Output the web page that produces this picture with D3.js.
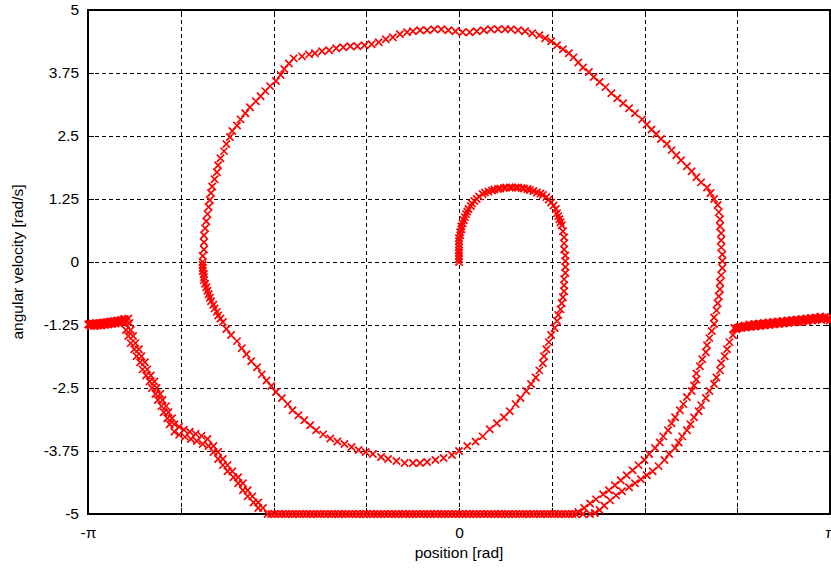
<!DOCTYPE html>
<html>
<head>
<meta charset="utf-8">
<script src="https://cdn.jsdelivr.net/npm/d3@7"></script>
<style>
  body { margin: 0; background: #fff; }
  svg text { font-family: "Liberation Sans", Arial, sans-serif; fill: #000; }
</style>
</head>
<body>
<svg id="chart" width="831" height="571"></svg>
<script>
// Axis ticks: multiples of pi/4 on the position axis, 1.25 steps on velocity.
const xTickSteps = [-4, -3, -2, -1, 0, 1, 2, 3, 4];
const xTickLabels = ["-π", "", "", "", "0", "", "", "", "π"];
const yTicks = [-5, -3.75, -2.5, -1.25, 0, 1.25, 2.5, 3.75, 5];
const yTickLabels = ["-5", "-3.75", "-2.5", "-1.25", "0", "1.25", "2.5", "3.75", "5"];

// Trajectory samples [position rad, angular velocity rad/s], in time order.
const startArc = [[0.00,0.00],[0.00,0.06],[0.00,0.12],[0.00,0.18],[0.00,0.23],[0.00,0.29],[0.00,0.35],[0.00,0.41],[0.00,0.47],[0.01,0.53],[0.01,0.59],[0.02,0.65],[0.02,0.71],[0.03,0.77],[0.04,0.83],[0.05,0.89],[0.06,0.95],[0.07,1.00],[0.08,1.05],[0.10,1.11],[0.11,1.16],[0.13,1.21],[0.15,1.25],[0.17,1.30],[0.20,1.35],[0.22,1.38],[0.25,1.40],[0.28,1.42],[0.30,1.44],[0.33,1.45],[0.35,1.46],[0.38,1.47],[0.40,1.48],[0.43,1.48],[0.45,1.48],[0.48,1.48],[0.50,1.48],[0.53,1.47],[0.55,1.46],[0.58,1.45],[0.60,1.43],[0.63,1.41],[0.66,1.38],[0.69,1.36],[0.71,1.33],[0.74,1.29],[0.76,1.24],[0.78,1.18],[0.80,1.12],[0.82,1.05],[0.83,0.97],[0.84,0.91],[0.85,0.85],[0.86,0.79],[0.87,0.73],[0.88,0.61],[0.89,0.49],[0.89,0.37],[0.89,0.25],[0.90,0.13],[0.90,0.02],[0.90,-0.10],[0.90,-0.22],[0.89,-0.34],[0.89,-0.46],[0.89,-0.58],[0.88,-0.70],[0.87,-0.82],[0.86,-0.94],[0.84,-1.05],[0.83,-1.17]];

const firstSwing = [[0.81,-1.31],[0.78,-1.45],[0.76,-1.59],[0.74,-1.73],[0.72,-1.87],[0.71,-2.01],[0.68,-2.15],[0.65,-2.29],[0.61,-2.42],[0.57,-2.56],[0.52,-2.70],[0.48,-2.82],[0.43,-2.96],[0.38,-3.08],[0.32,-3.20],[0.26,-3.32],[0.20,-3.46],[0.14,-3.56],[0.07,-3.65],[0.00,-3.75],[-0.06,-3.83],[-0.13,-3.89],[-0.20,-3.93],[-0.27,-3.97],[-0.33,-3.99],[-0.39,-3.99],[-0.46,-3.99],[-0.53,-3.95],[-0.60,-3.91],[-0.66,-3.87],[-0.73,-3.81],[-0.79,-3.77],[-0.85,-3.73],[-0.91,-3.67],[-0.97,-3.61],[-1.03,-3.56],[-1.09,-3.50],[-1.15,-3.42],[-1.21,-3.34],[-1.26,-3.24],[-1.31,-3.14],[-1.36,-3.04],[-1.41,-2.94],[-1.45,-2.82],[-1.50,-2.70],[-1.55,-2.58],[-1.59,-2.46],[-1.63,-2.35],[-1.67,-2.23],[-1.71,-2.09],[-1.76,-1.97],[-1.80,-1.83],[-1.84,-1.71],[-1.88,-1.57],[-1.93,-1.45],[-1.97,-1.33],[-2.00,-1.19],[-2.02,-1.12],[-2.04,-1.06],[-2.05,-0.99],[-2.07,-0.92],[-2.08,-0.85],[-2.10,-0.78],[-2.11,-0.71],[-2.12,-0.64],[-2.13,-0.57],[-2.14,-0.50],[-2.15,-0.43],[-2.16,-0.36],[-2.16,-0.30],[-2.16,-0.24],[-2.17,-0.18],[-2.17,-0.12],[-2.17,-0.06],[-2.17,0.00]];

const risingSwing = [[-2.17,0.12],[-2.16,0.25],[-2.16,0.39],[-2.16,0.53],[-2.15,0.67],[-2.14,0.81],[-2.13,0.95],[-2.12,1.09],[-2.11,1.23],[-2.10,1.37],[-2.09,1.50],[-2.07,1.64],[-2.05,1.78],[-2.04,1.92],[-2.02,2.06],[-1.99,2.20],[-1.97,2.34],[-1.94,2.48],[-1.92,2.60],[-1.88,2.71],[-1.85,2.83],[-1.81,2.95],[-1.77,3.07],[-1.72,3.19],[-1.68,3.29],[-1.64,3.39],[-1.60,3.49],[-1.55,3.59],[-1.51,3.71],[-1.48,3.83],[-1.44,3.94],[-1.40,4.04],[-1.33,4.08],[-1.27,4.12],[-1.22,4.14],[-1.16,4.18],[-1.10,4.20],[-1.04,4.24],[-0.98,4.26],[-0.92,4.28],[-0.86,4.28],[-0.80,4.30],[-0.74,4.32],[-0.68,4.36],[-0.62,4.42],[-0.56,4.46],[-0.50,4.52],[-0.44,4.56],[-0.39,4.58],[-0.33,4.60],[-0.27,4.60],[-0.21,4.62],[-0.15,4.62],[-0.09,4.60],[-0.03,4.58],[0.03,4.56],[0.09,4.56],[0.15,4.58],[0.21,4.60],[0.27,4.62],[0.33,4.62],[0.39,4.62],[0.44,4.62],[0.50,4.60],[0.56,4.58],[0.62,4.54],[0.68,4.50],[0.73,4.44],[0.78,4.38],[0.83,4.30],[0.88,4.22],[0.93,4.14],[0.97,4.06],[1.01,3.96],[1.05,3.86],[1.10,3.77],[1.14,3.67],[1.19,3.57],[1.24,3.47],[1.29,3.35],[1.34,3.25],[1.39,3.15],[1.44,3.05],[1.49,2.95],[1.55,2.83],[1.59,2.73],[1.63,2.63],[1.67,2.54],[1.71,2.44],[1.76,2.34],[1.80,2.22],[1.84,2.12],[1.88,2.02],[1.93,1.90],[1.97,1.80],[2.01,1.68],[2.05,1.58],[2.10,1.48],[2.13,1.37],[2.16,1.25],[2.19,1.13],[2.20,0.99],[2.21,0.85],[2.21,0.71],[2.22,0.57],[2.22,0.43],[2.22,0.29],[2.23,0.15],[2.23,0.02],[2.23,-0.12],[2.22,-0.26],[2.21,-0.40],[2.21,-0.54],[2.20,-0.68],[2.19,-0.82],[2.18,-0.96],[2.16,-1.10],[2.16,-1.23],[2.14,-1.37],[2.12,-1.51],[2.10,-1.65],[2.09,-1.79],[2.06,-1.93],[2.04,-2.07],[2.01,-2.21]];

const innerDescent = [[2.01,-2.33],[1.99,-2.45],[1.97,-2.56],[1.93,-2.68],[1.90,-2.82],[1.87,-2.94],[1.83,-3.08],[1.80,-3.20],[1.77,-3.34],[1.73,-3.46],[1.70,-3.58],[1.66,-3.69],[1.61,-3.81],[1.57,-3.93],[1.52,-4.03],[1.47,-4.13],[1.42,-4.23],[1.37,-4.33],[1.32,-4.43],[1.27,-4.53],[1.22,-4.61],[1.16,-4.71],[1.11,-4.79],[1.06,-4.88],[1.01,-4.96],[0.96,-5.00]];

const floorA = [[0.90,-5],[0.84,-5],[0.78,-5],[0.72,-5],[0.66,-5],[0.60,-5],[0.54,-5],[0.48,-5],[0.42,-5],[0.36,-5],[0.30,-5],[0.24,-5],[0.18,-5],[0.12,-5],[0.06,-5],[0.00,-5],[-0.06,-5],[-0.12,-5],[-0.18,-5],[-0.24,-5],[-0.30,-5],[-0.36,-5],[-0.42,-5],[-0.48,-5],[-0.54,-5],[-0.60,-5],[-0.66,-5],[-0.72,-5],[-0.78,-5],[-0.84,-5],[-0.90,-5],[-0.96,-5],[-1.02,-5],[-1.08,-5],[-1.14,-5],[-1.20,-5],[-1.26,-5],[-1.32,-5],[-1.38,-5],[-1.44,-5],[-1.50,-5],[-1.56,-5],[-1.62,-5]];

const climbA = [[-1.70,-4.88],[-1.74,-4.77],[-1.79,-4.65],[-1.83,-4.53],[-1.87,-4.39],[-1.91,-4.27],[-1.96,-4.15],[-2.00,-4.03],[-2.04,-3.91],[-2.08,-3.77],[-2.12,-3.65],[-2.17,-3.61],[-2.22,-3.55],[-2.27,-3.51],[-2.32,-3.47],[-2.37,-3.43],[-2.41,-3.37],[-2.45,-3.22],[-2.47,-3.10],[-2.50,-2.98],[-2.52,-2.86],[-2.55,-2.74],[-2.57,-2.62],[-2.60,-2.50],[-2.62,-2.37],[-2.65,-2.25],[-2.68,-2.13],[-2.70,-1.99],[-2.73,-1.87],[-2.75,-1.73],[-2.78,-1.61],[-2.80,-1.47],[-2.82,-1.35],[-2.83,-1.21]];

const leftFlatA = [[-2.84,-1.14],[-2.85,-1.19],[-2.87,-1.16],[-2.88,-1.21],[-2.90,-1.17],[-2.91,-1.22],[-2.93,-1.18],[-2.94,-1.23],[-2.96,-1.19],[-2.97,-1.24],[-2.99,-1.20],[-3.00,-1.25],[-3.02,-1.21],[-3.03,-1.26],[-3.05,-1.22],[-3.06,-1.26],[-3.08,-1.22],[-3.09,-1.27],[-3.11,-1.23],[-3.12,-1.27],[-3.14,-1.24]];

const rightFlatA = [[3.14,-1.16],[3.12,-1.12],[3.10,-1.09],[3.08,-1.11],[3.06,-1.08],[3.04,-1.12],[3.02,-1.10],[3.00,-1.14],[2.98,-1.11],[2.96,-1.15],[2.94,-1.12],[2.92,-1.16],[2.90,-1.13],[2.88,-1.17],[2.86,-1.14],[2.84,-1.18],[2.82,-1.15],[2.80,-1.19],[2.78,-1.16],[2.76,-1.20],[2.74,-1.17],[2.72,-1.21],[2.70,-1.18],[2.68,-1.22],[2.66,-1.19],[2.64,-1.23],[2.62,-1.20],[2.60,-1.24],[2.58,-1.21],[2.56,-1.25],[2.54,-1.22],[2.52,-1.26],[2.50,-1.23],[2.48,-1.27],[2.46,-1.24],[2.44,-1.28],[2.42,-1.26],[2.40,-1.29],[2.38,-1.28],[2.36,-1.31],[2.34,-1.32]];

const outerDescent = [[2.33,-1.31],[2.32,-1.45],[2.29,-1.59],[2.27,-1.73],[2.25,-1.87],[2.22,-2.01],[2.21,-2.15],[2.18,-2.29],[2.16,-2.42],[2.12,-2.56],[2.09,-2.70],[2.05,-2.84],[2.03,-2.96],[1.99,-3.08],[1.96,-3.22],[1.93,-3.34],[1.89,-3.46],[1.86,-3.58],[1.83,-3.69],[1.78,-3.81],[1.74,-3.93],[1.69,-4.05],[1.64,-4.15],[1.59,-4.23],[1.54,-4.31],[1.49,-4.39],[1.44,-4.47],[1.38,-4.55],[1.33,-4.63],[1.28,-4.73],[1.23,-4.83],[1.19,-4.92],[1.15,-4.98]];

const floorB = [[1.11,-5],[1.05,-5],[0.99,-5],[0.93,-5],[0.87,-5],[0.81,-5],[0.75,-5],[0.69,-5],[0.63,-5],[0.57,-5],[0.51,-5],[0.45,-5],[0.39,-5],[0.33,-5],[0.27,-5],[0.21,-5],[0.15,-5],[0.09,-5],[0.03,-5],[-0.03,-5],[-0.09,-5],[-0.15,-5],[-0.21,-5],[-0.27,-5],[-0.33,-5],[-0.39,-5],[-0.45,-5],[-0.51,-5],[-0.57,-5],[-0.63,-5],[-0.69,-5],[-0.75,-5],[-0.81,-5],[-0.87,-5],[-0.93,-5],[-0.99,-5],[-1.05,-5],[-1.11,-5],[-1.17,-5],[-1.23,-5],[-1.29,-5],[-1.35,-5],[-1.41,-5],[-1.47,-5],[-1.53,-5],[-1.59,-5]];

const climbB = [[-1.66,-4.88],[-1.70,-4.77],[-1.75,-4.65],[-1.79,-4.53],[-1.83,-4.39],[-1.87,-4.27],[-1.92,-4.15],[-1.96,-4.03],[-2.00,-3.91],[-2.04,-3.77],[-2.08,-3.65],[-2.13,-3.51],[-2.18,-3.45],[-2.23,-3.41],[-2.28,-3.37],[-2.33,-3.33],[-2.37,-3.27],[-2.41,-3.22],[-2.43,-3.10],[-2.46,-2.98],[-2.48,-2.86],[-2.51,-2.74],[-2.53,-2.62],[-2.56,-2.50],[-2.58,-2.37],[-2.61,-2.25],[-2.64,-2.13],[-2.66,-1.99],[-2.69,-1.87],[-2.71,-1.73],[-2.74,-1.61],[-2.76,-1.47],[-2.78,-1.35],[-2.79,-1.21]];

const leftFlatB = [[-2.80,-1.12],[-2.82,-1.17],[-2.83,-1.13],[-2.85,-1.18],[-2.86,-1.15],[-2.88,-1.20],[-2.89,-1.16],[-2.91,-1.21],[-2.92,-1.17],[-2.94,-1.22],[-2.95,-1.18],[-2.97,-1.23],[-2.98,-1.19],[-3.00,-1.24],[-3.01,-1.20],[-3.03,-1.25],[-3.04,-1.21],[-3.06,-1.25],[-3.07,-1.21],[-3.09,-1.26],[-3.10,-1.22],[-3.12,-1.26],[-3.13,-1.23]];

const rightFlatB = [[3.13,-1.10],[3.11,-1.14],[3.09,-1.12],[3.07,-1.15],[3.05,-1.11],[3.03,-1.14],[3.01,-1.12],[2.99,-1.16],[2.97,-1.13],[2.95,-1.17],[2.93,-1.14],[2.91,-1.18],[2.89,-1.15],[2.87,-1.19],[2.85,-1.16],[2.83,-1.20],[2.81,-1.17],[2.79,-1.21],[2.77,-1.18],[2.75,-1.22],[2.73,-1.19],[2.71,-1.23],[2.69,-1.20],[2.67,-1.24],[2.65,-1.21],[2.63,-1.25],[2.61,-1.22],[2.59,-1.26],[2.57,-1.23],[2.55,-1.27],[2.53,-1.24],[2.51,-1.28],[2.49,-1.25],[2.47,-1.29],[2.45,-1.27],[2.43,-1.30],[2.41,-1.28],[2.39,-1.31],[2.37,-1.30],[2.35,-1.33]];

const trajectory = [].concat(
  startArc, firstSwing, risingSwing, innerDescent, floorA, climbA,
  leftFlatA, rightFlatA, outerDescent, floorB, climbB, leftFlatB, rightFlatB
);

// ---- layout ----
const plot = { left: 88, right: 830, top: 10, bottom: 514 };
const fontSize = 15.5;

const svg = d3.select("#chart");
const x = d3.scaleLinear().domain([-Math.PI, Math.PI]).range([plot.left, plot.right]);
const y = d3.scaleLinear().domain([-5, 5]).range([plot.bottom, plot.top]);

const xTicks = xTickSteps.map(k => k * Math.PI / 4);
const plotW = plot.right - plot.left;
const plotH = plot.bottom - plot.top;

// dashed grid
const grid = svg.append("g").attr("shape-rendering", "crispEdges");
grid.append("g")
  .attr("transform", `translate(0,${plot.bottom})`)
  .call(d3.axisBottom(x).tickValues(xTicks.slice(1, -1)).tickSize(-plotH).tickFormat(""))
  .call(g => g.select(".domain").remove())
  .call(g => g.selectAll("line").attr("stroke", "#000").attr("stroke-dasharray", "4,3"));
grid.append("g")
  .attr("transform", `translate(${plot.left},0)`)
  .call(d3.axisLeft(y).tickValues(yTicks.slice(1, -1)).tickSize(-plotW).tickFormat(""))
  .call(g => g.select(".domain").remove())
  .call(g => g.selectAll("line").attr("stroke", "#000").attr("stroke-dasharray", "4,3"));

// axes with inward ticks on all four sides
function styleAxis(g) {
  g.select(".domain").remove();
  g.selectAll("line").attr("stroke", "#000").attr("stroke-width", 1);
  g.selectAll("text").attr("font-size", fontSize).attr("font-family", '"Liberation Sans", Arial, sans-serif');
}
const axes = svg.append("g").attr("shape-rendering", "crispEdges");
axes.append("g")
  .attr("transform", `translate(0,${plot.bottom})`)
  .call(d3.axisBottom(x).tickValues(xTicks).tickSizeInner(-6).tickSizeOuter(0).tickPadding(13)
    .tickFormat((d, i) => xTickLabels[i]))
  .call(styleAxis);
axes.append("g")
  .attr("transform", `translate(0,${plot.top})`)
  .call(d3.axisTop(x).tickValues(xTicks).tickSizeInner(-6).tickSizeOuter(0).tickFormat(""))
  .call(styleAxis);
axes.append("g")
  .attr("transform", `translate(${plot.left},0)`)
  .call(d3.axisLeft(y).tickValues(yTicks).tickSizeInner(-6).tickSizeOuter(0).tickPadding(9)
    .tickFormat((d, i) => yTickLabels[i]))
  .call(styleAxis);
axes.append("g")
  .attr("transform", `translate(${plot.right},0)`)
  .call(d3.axisRight(y).tickValues(yTicks).tickSizeInner(-6).tickSizeOuter(0).tickFormat(""))
  .call(styleAxis);

// plot border
axes.append("rect")
  .attr("x", plot.left).attr("y", plot.top)
  .attr("width", plotW).attr("height", plotH)
  .attr("fill", "none").attr("stroke", "#000").attr("stroke-width", 1.2);

// axis titles
svg.append("text")
  .attr("x", (plot.left + plot.right) / 2).attr("y", 558)
  .attr("text-anchor", "middle").attr("font-size", fontSize)
  .text("position [rad]");
svg.append("text")
  .attr("transform", `translate(23,${(plot.top + plot.bottom) / 2}) rotate(-90)`)
  .attr("text-anchor", "middle").attr("font-size", fontSize)
  .text("angular velocity [rad/s]");

// 'x' markers along the trajectory
const timesType = d3.symbolTimes || {
  draw(ctx, size) {
    const r = Math.sqrt(size - Math.min(size / 6, 1.7)) * 0.6189;
    ctx.moveTo(-r, -r); ctx.lineTo(r, r);
    ctx.moveTo(-r, r); ctx.lineTo(r, -r);
  }
};
const marker = d3.symbol().type(timesType).size(36);
svg.append("g")
  .selectAll("path")
  .data(trajectory)
  .join("path")
  .attr("transform", d => `translate(${x(d[0])},${y(d[1])})`)
  .attr("d", marker)
  .attr("fill", "none")
  .attr("stroke", "#ff0000")
  .attr("stroke-width", 1.7);
</script>
</body>
</html>
